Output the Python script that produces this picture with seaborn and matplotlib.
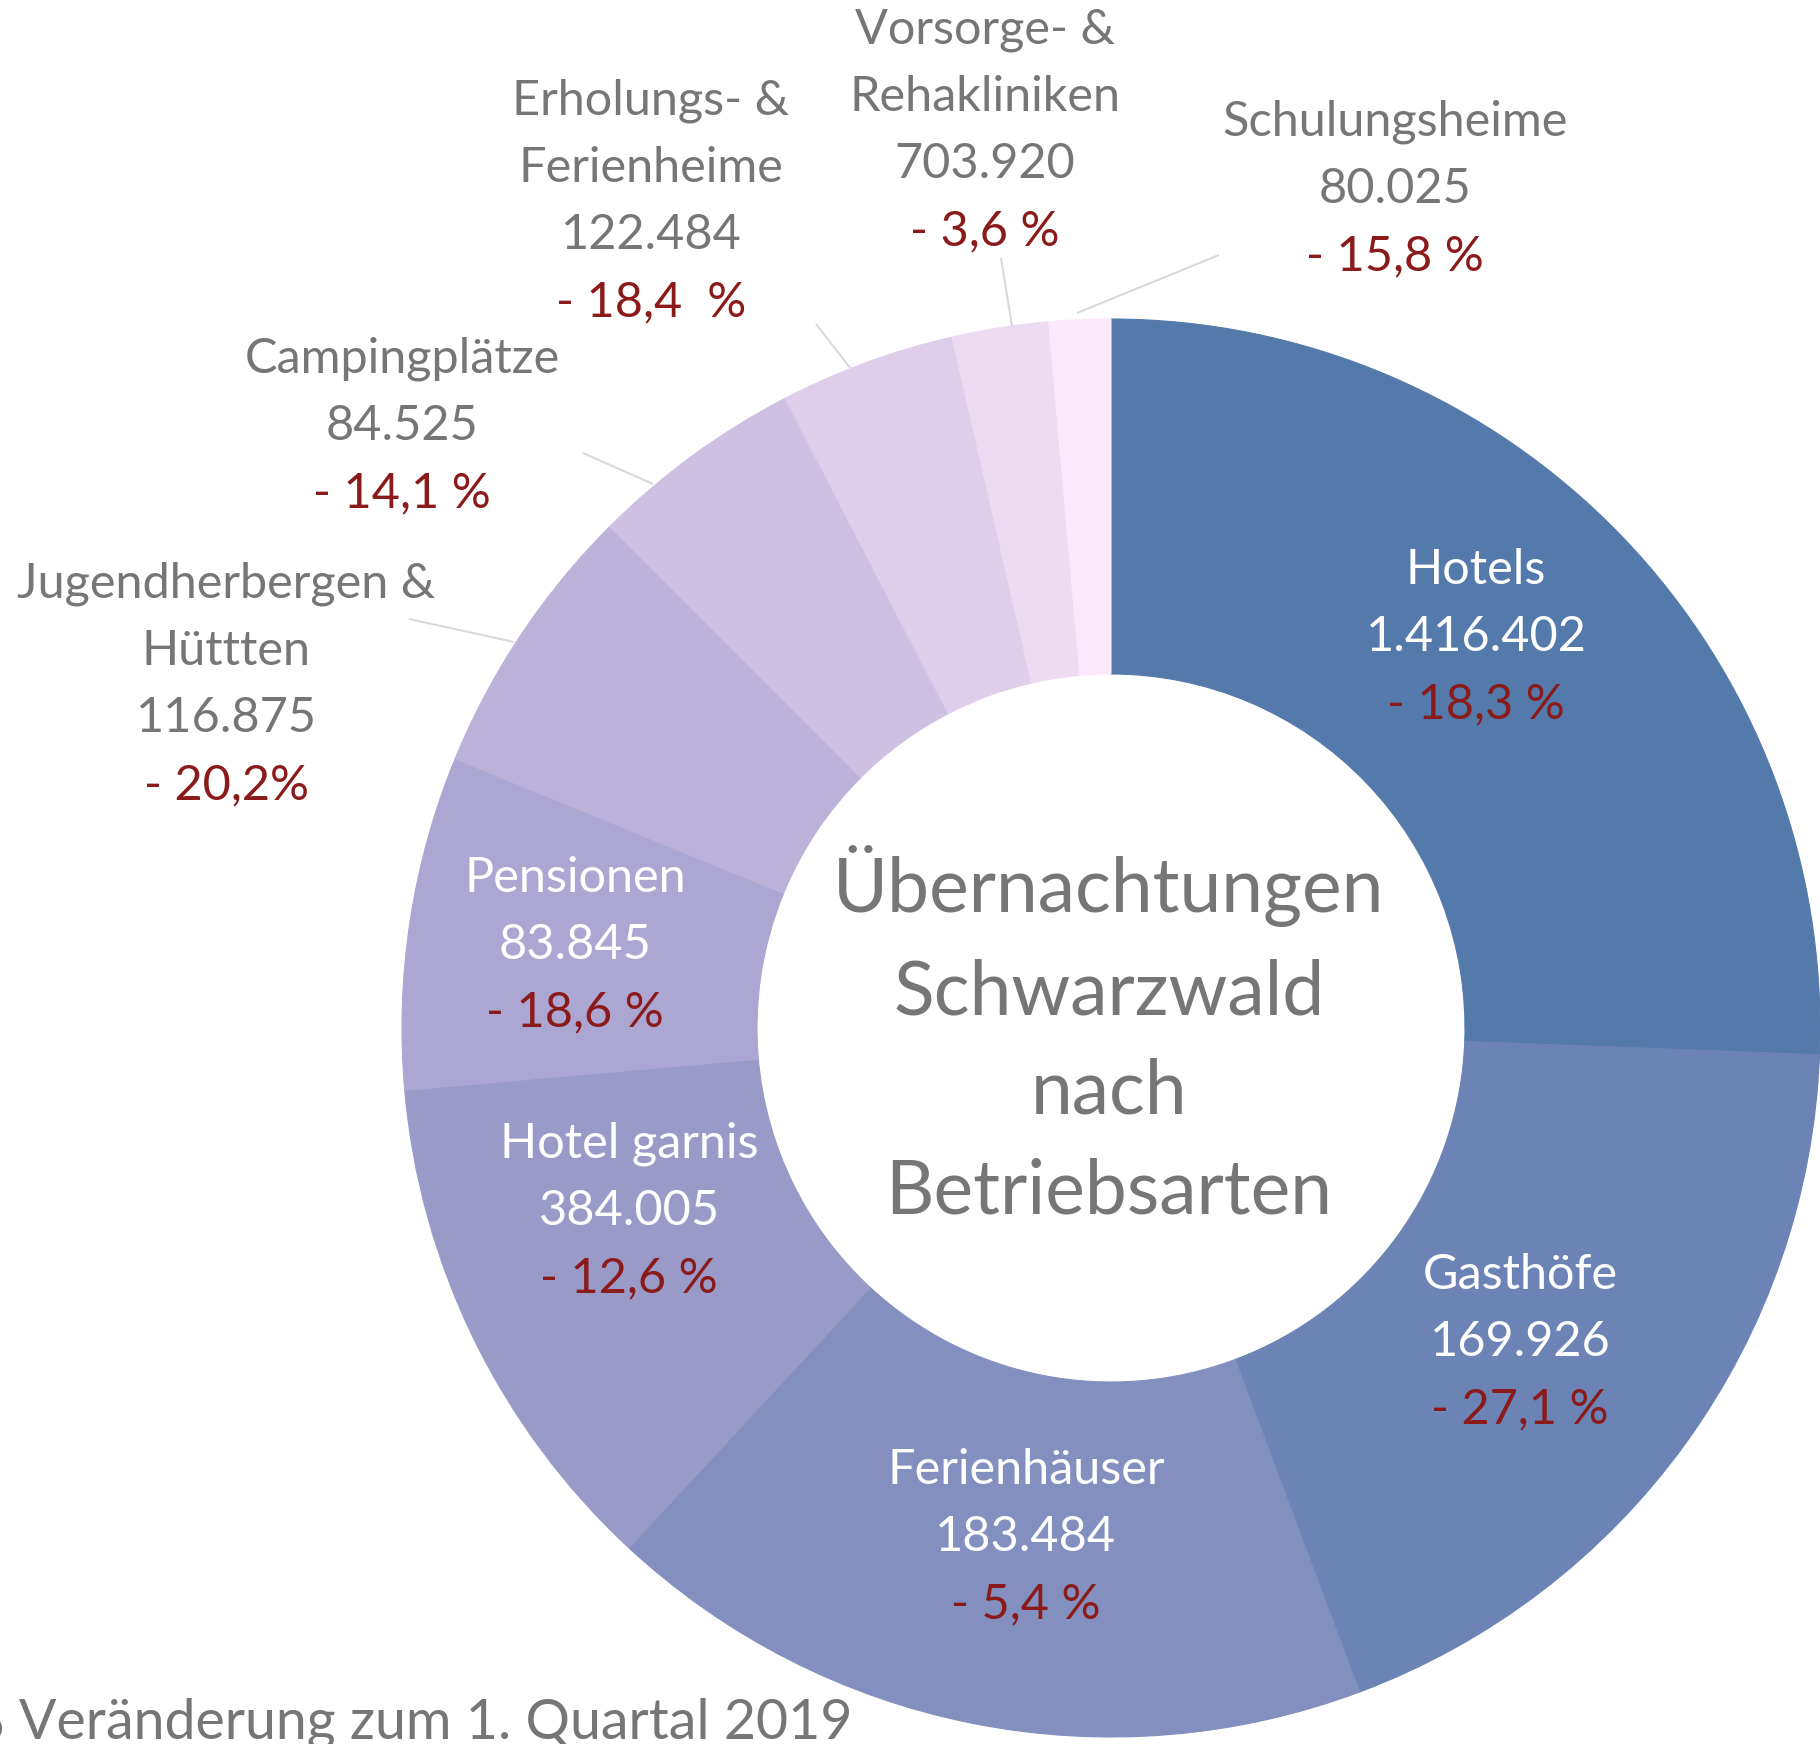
import matplotlib
matplotlib.use("Agg")
import matplotlib.pyplot as plt
import seaborn as sns

# ---- data ----
categories = ["Hotels", "Gasthöfe", "Ferienhäuser", "Hotel garnis", "Pensionen",
              "Jugendherbergen &\nHüttten", "Campingplätze", "Erholungs- &\nFerienheime",
              "Vorsorge- &\nRehakliniken", "Schulungsheime"]
shares = [25.6, 18.7, 17.6, 11.7, 7.6, 6.3, 4.9, 4.0, 2.2, 1.4]
values = ["1.416.402", "169.926", "183.484", "384.005", "83.845",
          "116.875", "84.525", "122.484", "703.920", "80.025"]
changes = ["- 18,3 %", "- 27,1 %", "- 5,4 %", "- 12,6 %", "- 18,6 %",
           "- 20,2%", "- 14,1 %", "- 18,4  %", "- 3,6 %", "- 15,8 %"]
center_title = "Übernachtungen\nSchwarzwald\nnach\nBetriebsarten"
footnote = "% Veränderung zum 1. Quartal 2019"

# ---- style ----
colors = ["#5479AB", "#6B83B5", "#838FBF", "#9A9AC8", "#ACA6D2",
          "#BCB2D9", "#CEC0E2", "#DFCEEA", "#EDDBF2", "#FCE8FB"]
inside = [True, True, True, True, True, False, False, False, False, False]
# label layout (x centre, y of first line from top, in pixels)
label_pos = [(1476, 570), (1520, 1275), (1026, 1470), (629, 1144), (575, 878),
             (226, 584), (402, 359), (651, 101), (985, 30), (1395, 122)]
leaders = {5: ((409, 619), (514, 642)),
           6: ((583, 453), (653, 484)),
           7: ((816, 324), (851, 369)),
           8: ((1001, 258), (1012, 326)),
           9: ((1219, 255), (1077, 313))}

sns.set_theme(style="white")
plt.rcParams["font.family"] = ["Lato", "DejaVu Sans"]

W, H = 1820, 1744
fig = plt.figure(figsize=(W / 100, H / 100), dpi=100)
ax = fig.add_axes([0, 0, 1, 1])

cx, cy, R, ring = 1111, H - 1028, 709, 355
wedges, _ = ax.pie(shares, colors=colors, startangle=90, counterclock=False,
                   radius=R, center=(cx, cy),
                   wedgeprops=dict(width=ring, linewidth=0.8, antialiased=True))
for w, c in zip(wedges, colors):
    w.set_edgecolor(c)

ax.set_xlim(0, W)
ax.set_ylim(0, H)
ax.set_aspect("equal")
ax.axis("off")

grey = "#767676"
red = "#8B1A1A"
fs = 35
lh = 67

for i, (cat, val, chg) in enumerate(zip(categories, values, changes)):
    x, y0 = label_pos[i]
    lines = cat.split("\n") + [val]
    col = "white" if inside[i] else grey
    for k, ln in enumerate(lines):
        ax.text(x, H - (y0 + k * lh), ln, ha="center", va="center",
                fontsize=fs, color=col)
    ax.text(x, H - (y0 + len(lines) * lh), chg, ha="center", va="center",
            fontsize=fs, color=red)

for i, ((x1, y1), (x2, y2)) in leaders.items():
    ax.plot([x1, x2], [H - y1, H - y2], color="#D9D9D9", lw=1.5,
            solid_capstyle="butt")

ax.text(1109, H - 1036, center_title, ha="center", va="center",
        fontsize=54, color=grey, linespacing=1.55)

ax.text(853, 6, footnote, ha="right", va="baseline", fontsize=40, color=grey)

fig.savefig("out.png", dpi=100)
